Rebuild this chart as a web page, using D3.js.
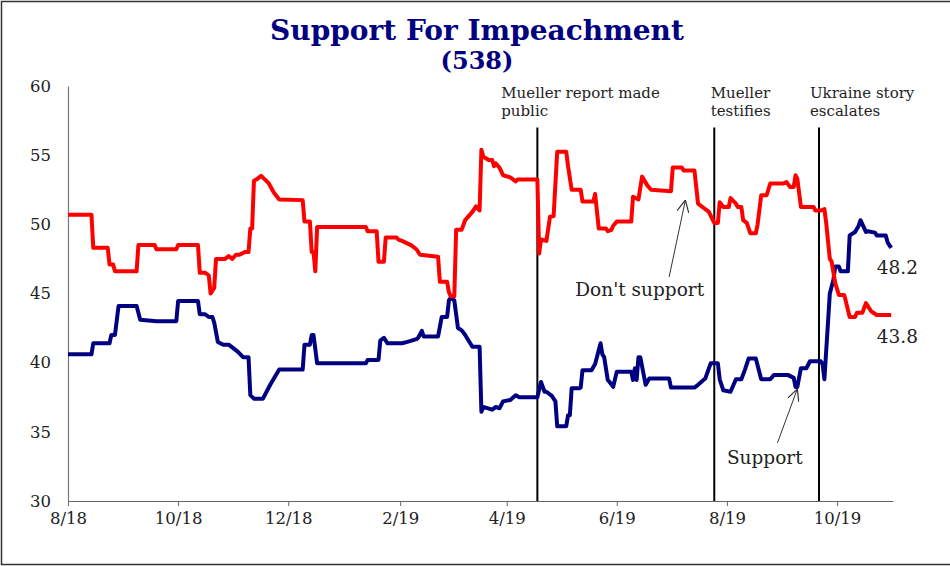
<!DOCTYPE html>
<html>
<head>
<meta charset="utf-8">
<script src="https://cdn.jsdelivr.net/npm/d3@7"></script>
<style>
  body { margin: 0; background: #fff; }
  svg { display: block; }
  text { font-family: "DejaVu Serif", Georgia, serif; }
</style>
</head>
<body>
<div id="chart"></div>
<script>
// Support for impeachment (538 average)
const supportSeries = [
  ["2018-08-01", 40.6], ["2018-08-14", 40.6], ["2018-08-15", 41.4], ["2018-08-24", 41.4],
  ["2018-08-25", 42.0], ["2018-08-27", 42.0], ["2018-08-29", 44.1], ["2018-09-08", 44.1],
  ["2018-09-10", 43.1], ["2018-09-19", 43.0], ["2018-09-30", 43.0], ["2018-10-01", 44.45],
  ["2018-10-12", 44.45], ["2018-10-13", 43.5], ["2018-10-16", 43.5], ["2018-10-18", 43.3],
  ["2018-10-20", 43.3], ["2018-10-21", 42.9], ["2018-10-23", 41.5], ["2018-10-26", 41.3],
  ["2018-10-29", 41.3], ["2018-10-31", 41.1], ["2018-11-03", 40.8], ["2018-11-06", 40.4],
  ["2018-11-09", 40.4], ["2018-11-10", 37.65], ["2018-11-12", 37.4], ["2018-11-17", 37.4],
  ["2018-11-21", 38.4], ["2018-11-26", 39.5], ["2018-12-09", 39.5], ["2018-12-10", 41.3],
  ["2018-12-13", 41.3], ["2018-12-14", 42.0], ["2018-12-15", 42.0], ["2018-12-17", 39.95],
  ["2019-01-13", 39.95], ["2019-01-14", 40.2], ["2019-01-20", 40.2], ["2019-01-21", 41.6],
  ["2019-01-23", 41.8], ["2019-01-25", 41.4], ["2019-02-02", 41.4], ["2019-02-05", 41.5],
  ["2019-02-10", 41.7], ["2019-02-11", 41.8], ["2019-02-13", 42.3], ["2019-02-14", 41.9],
  ["2019-02-22", 41.9], ["2019-02-24", 43.3], ["2019-02-27", 43.3], ["2019-02-28", 44.5],
  ["2019-03-01", 44.7], ["2019-03-03", 44.5], ["2019-03-05", 42.5], ["2019-03-07", 42.35],
  ["2019-03-09", 42.0], ["2019-03-13", 41.15], ["2019-03-17", 41.15], ["2019-03-18", 36.45],
  ["2019-03-19", 36.8], ["2019-03-24", 36.6], ["2019-03-26", 36.8], ["2019-03-28", 36.7],
  ["2019-03-30", 37.2], ["2019-04-03", 37.3], ["2019-04-06", 37.65], ["2019-04-08", 37.5],
  ["2019-04-18", 37.5], ["2019-04-20", 38.6], ["2019-04-22", 37.9], ["2019-04-23", 37.9],
  ["2019-04-26", 37.6], ["2019-04-28", 37.2], ["2019-04-29", 35.4], ["2019-05-04", 35.4],
  ["2019-05-05", 36.2], ["2019-05-06", 36.2], ["2019-05-07", 38.15], ["2019-05-11", 38.15],
  ["2019-05-12", 38.2], ["2019-05-13", 39.45], ["2019-05-18", 39.45], ["2019-05-20", 39.9],
  ["2019-05-23", 41.4], ["2019-05-24", 40.6], ["2019-05-25", 40.4], ["2019-05-27", 38.75],
  ["2019-05-28", 38.6], ["2019-05-30", 38.25], ["2019-06-01", 39.35], ["2019-06-09", 39.35],
  ["2019-06-10", 38.75], ["2019-06-11", 39.6], ["2019-06-12", 38.75], ["2019-06-13", 40.4],
  ["2019-06-14", 40.4], ["2019-06-17", 38.4], ["2019-06-19", 38.85], ["2019-06-30", 38.85],
  ["2019-07-01", 38.2], ["2019-07-14", 38.2], ["2019-07-16", 38.4], ["2019-07-20", 38.85],
  ["2019-07-23", 39.95], ["2019-07-27", 39.95], ["2019-07-28", 38.8], ["2019-07-30", 38.0],
  ["2019-08-03", 37.9], ["2019-08-06", 38.8], ["2019-08-09", 38.8], ["2019-08-11", 39.5],
  ["2019-08-13", 40.3], ["2019-08-17", 40.3], ["2019-08-20", 38.8], ["2019-08-25", 38.8],
  ["2019-08-27", 39.1], ["2019-09-04", 39.1], ["2019-09-07", 38.9], ["2019-09-08", 38.25],
  ["2019-09-09", 38.25], ["2019-09-11", 39.6], ["2019-09-14", 39.6], ["2019-09-16", 40.1],
  ["2019-09-22", 40.1], ["2019-09-23", 39.9], ["2019-09-24", 38.8], ["2019-09-27", 45.0],
  ["2019-09-29", 46.0], ["2019-09-30", 46.95], ["2019-10-02", 46.95], ["2019-10-03", 46.6],
  ["2019-10-07", 46.6], ["2019-10-08", 49.2], ["2019-10-11", 49.45], ["2019-10-13", 49.9],
  ["2019-10-14", 50.3], ["2019-10-17", 49.45], ["2019-10-18", 49.5], ["2019-10-22", 49.4],
  ["2019-10-23", 49.2], ["2019-10-28", 49.2], ["2019-10-29", 48.7], ["2019-10-31", 48.3]
];

const opposeSeries = [
  ["2018-08-01", 50.7], ["2018-08-14", 50.7], ["2018-08-15", 48.3], ["2018-08-23", 48.3],
  ["2018-08-24", 47.1], ["2018-08-26", 47.1], ["2018-08-27", 46.6], ["2018-09-08", 46.6],
  ["2018-09-09", 48.5], ["2018-09-18", 48.5], ["2018-09-19", 48.2], ["2018-09-30", 48.2],
  ["2018-10-01", 48.5], ["2018-10-12", 48.5], ["2018-10-13", 46.5], ["2018-10-16", 46.5],
  ["2018-10-18", 46.3], ["2018-10-19", 45.0], ["2018-10-21", 45.4], ["2018-10-22", 47.5],
  ["2018-10-27", 47.5], ["2018-10-29", 47.7], ["2018-10-31", 47.5], ["2018-11-02", 47.8],
  ["2018-11-04", 47.8], ["2018-11-07", 48.0], ["2018-11-09", 48.0], ["2018-11-10", 49.7],
  ["2018-11-11", 49.7], ["2018-11-12", 53.15], ["2018-11-14", 53.3], ["2018-11-16", 53.5],
  ["2018-11-20", 53.0], ["2018-11-23", 52.3], ["2018-11-26", 51.8], ["2018-12-09", 51.75],
  ["2018-12-10", 50.2], ["2018-12-13", 50.2], ["2018-12-14", 48.0], ["2018-12-15", 48.0],
  ["2018-12-16", 46.6], ["2018-12-17", 49.8], ["2019-01-13", 49.8], ["2019-01-14", 49.5],
  ["2019-01-19", 49.5], ["2019-01-20", 47.3], ["2019-01-23", 47.3], ["2019-01-24", 49.05],
  ["2019-01-30", 49.05], ["2019-01-31", 48.9], ["2019-02-02", 48.8], ["2019-02-07", 48.5],
  ["2019-02-10", 48.2], ["2019-02-12", 47.8], ["2019-02-22", 47.65], ["2019-02-23", 45.85],
  ["2019-02-27", 45.85], ["2019-02-28", 45.1], ["2019-03-01", 44.8], ["2019-03-03", 44.8],
  ["2019-03-04", 49.6], ["2019-03-07", 49.6], ["2019-03-09", 50.3], ["2019-03-13", 50.9],
  ["2019-03-15", 51.3], ["2019-03-17", 51.0], ["2019-03-18", 55.4], ["2019-03-19", 54.9],
  ["2019-03-22", 54.65], ["2019-03-24", 54.65], ["2019-03-25", 54.2], ["2019-03-26", 54.4],
  ["2019-03-28", 54.1], ["2019-03-30", 53.55], ["2019-04-03", 53.4], ["2019-04-06", 53.1],
  ["2019-04-07", 53.25], ["2019-04-18", 53.25], ["2019-04-19", 47.9], ["2019-04-20", 48.9],
  ["2019-04-23", 48.8], ["2019-04-25", 50.55], ["2019-04-27", 50.6], ["2019-04-29", 55.25],
  ["2019-05-04", 55.25], ["2019-05-05", 54.2], ["2019-05-07", 52.5], ["2019-05-12", 52.5],
  ["2019-05-13", 51.65], ["2019-05-19", 51.65], ["2019-05-20", 52.2], ["2019-05-22", 49.7],
  ["2019-05-26", 49.7], ["2019-05-27", 49.5], ["2019-05-29", 49.6], ["2019-05-30", 49.9],
  ["2019-06-01", 50.2], ["2019-06-09", 50.2], ["2019-06-10", 52.0], ["2019-06-13", 51.8],
  ["2019-06-15", 53.45], ["2019-06-18", 52.8], ["2019-06-20", 52.5], ["2019-07-01", 52.4],
  ["2019-07-02", 54.1], ["2019-07-07", 54.1], ["2019-07-08", 53.9], ["2019-07-14", 53.9],
  ["2019-07-16", 51.5], ["2019-07-19", 51.2], ["2019-07-22", 50.9], ["2019-07-25", 50.1],
  ["2019-07-27", 50.1], ["2019-07-28", 51.6], ["2019-07-30", 51.25], ["2019-08-02", 51.25],
  ["2019-08-03", 51.9], ["2019-08-06", 51.5], ["2019-08-07", 51.25], ["2019-08-09", 51.25],
  ["2019-08-10", 50.3], ["2019-08-12", 50.1], ["2019-08-14", 49.35], ["2019-08-17", 49.35],
  ["2019-08-18", 50.0], ["2019-08-20", 52.1], ["2019-08-23", 52.1], ["2019-08-25", 52.95],
  ["2019-09-01", 52.95], ["2019-09-03", 53.05], ["2019-09-05", 52.7], ["2019-09-07", 52.7],
  ["2019-09-08", 53.55], ["2019-09-09", 53.3], ["2019-09-11", 51.25], ["2019-09-18", 51.25],
  ["2019-09-19", 51.0], ["2019-09-22", 51.0], ["2019-09-24", 51.1], ["2019-09-25", 50.1],
  ["2019-09-27", 47.5], ["2019-09-28", 47.3], ["2019-09-30", 45.75], ["2019-10-02", 44.9],
  ["2019-10-05", 44.9], ["2019-10-08", 43.3], ["2019-10-11", 43.3], ["2019-10-12", 43.6],
  ["2019-10-15", 43.6], ["2019-10-17", 44.3], ["2019-10-20", 43.7], ["2019-10-23", 43.45],
  ["2019-10-31", 43.45]
];

const yTicks = [30, 35, 40, 45, 50, 55, 60];
const xTickDates = ["2018-08-01", "2018-10-01", "2018-12-01", "2019-02-01",
                    "2019-04-01", "2019-06-01", "2019-08-01", "2019-10-01"];
const xTickLabels = ["8/18", "10/18", "12/18", "2/19", "4/19", "6/19", "8/19", "10/19"];

// event lines: date, label lines, date where the label starts
const events = [
  { date: "2019-04-18", lines: ["Mueller report made", "public"], labelDate: "2019-03-29" },
  { date: "2019-07-25", lines: ["Mueller", "testifies"], labelDate: "2019-07-23" },
  { date: "2019-09-21", lines: ["Ukraine story", "escalates"], labelDate: "2019-09-16" }
];

const endLabels = [
  { text: "48.2", date: "2019-10-23", value: 46.4 },
  { text: "43.8", date: "2019-10-23", value: 41.4 }
];

// series callouts: text anchor + arrow tail/tip in data units
const callouts = [
  { text: "Don't support", textDate: "2019-05-09", textValue: 44.85,
    from: ["2019-06-30", 46.2], to: ["2019-07-09", 51.75] },
  { text: "Support", textDate: "2019-08-01", textValue: 32.7,
    from: ["2019-08-29", 34.2], to: ["2019-09-09", 38.1] }
];

const width = 950, height = 566;
const parse = d3.timeParse("%Y-%m-%d");

const x = d3.scaleTime()
  .domain([parse("2018-08-01"), parse("2019-11-01")])
  .range([68, 893]);
const y = d3.scaleLinear().domain([30, 60]).range([501, 86]);

const svg = d3.select("#chart").append("svg")
  .attr("width", width)
  .attr("height", height);

// frame
svg.append("rect")
  .attr("x", 1.5).attr("y", 1.5)
  .attr("width", width + 10).attr("height", 563)
  .attr("fill", "none")
  .attr("stroke", "#333")
  .attr("stroke-width", 1.5);

// title
svg.append("text")
  .attr("x", 477).attr("y", 40)
  .attr("text-anchor", "middle")
  .attr("font-size", 28)
  .attr("font-weight", "bold")
  .attr("fill", "#000080")
  .text("Support For Impeachment");
svg.append("text")
  .attr("x", 477).attr("y", 69)
  .attr("text-anchor", "middle")
  .attr("font-size", 24)
  .attr("font-weight", "bold")
  .attr("fill", "#000080")
  .text("(538)");

// axes
const yAxis = d3.axisLeft(y).tickValues(yTicks).tickSize(0).tickPadding(17);
const gy = svg.append("g").attr("transform", "translate(68,0)").call(yAxis);
gy.select(".domain").attr("stroke", "#777").attr("stroke-width", 1.2);
gy.selectAll("text").attr("font-size", 16.5).attr("fill", "#222")
  .attr("font-family", "DejaVu Serif, serif");

const xAxis = d3.axisBottom(x)
  .tickValues(xTickDates.map(parse))
  .tickFormat((d, i) => xTickLabels[i])
  .tickSizeInner(5).tickSizeOuter(0).tickPadding(6);
const gx = svg.append("g").attr("transform", "translate(0,501)").call(xAxis);
gx.select(".domain").attr("stroke", "#666").attr("stroke-width", 1.2);
gx.selectAll(".tick line").attr("stroke", "#666");
gx.selectAll("text").attr("font-size", 16.5).attr("fill", "#222")
  .attr("font-family", "DejaVu Serif, serif");

// event lines
events.forEach(ev => {
  const ex = x(parse(ev.date));
  svg.append("line")
    .attr("x1", ex).attr("x2", ex)
    .attr("y1", y(57)).attr("y2", y(30))
    .attr("stroke", "#000").attr("stroke-width", 2);
  const t = svg.append("text")
    .attr("x", x(parse(ev.labelDate)))
    .attr("y", 98)
    .attr("font-size", 15)
    .attr("fill", "#222");
  ev.lines.forEach((s, i) => {
    t.append("tspan").attr("x", x(parse(ev.labelDate))).attr("dy", i === 0 ? 0 : 18).text(s);
  });
});

// lines
const line = d3.line()
  .x(d => x(parse(d[0])))
  .y(d => y(d[1]));

svg.append("path")
  .datum(supportSeries)
  .attr("d", line)
  .attr("fill", "none")
  .attr("stroke", "#000080")
  .attr("stroke-width", 4)
  .attr("stroke-linejoin", "round");

svg.append("path")
  .datum(opposeSeries)
  .attr("d", line)
  .attr("fill", "none")
  .attr("stroke", "#ff0000")
  .attr("stroke-width", 4)
  .attr("stroke-linejoin", "round");

// end labels
endLabels.forEach(l => {
  svg.append("text")
    .attr("x", x(parse(l.date))).attr("y", y(l.value))
    .attr("font-size", 18.5).attr("fill", "#222")
    .text(l.text);
});

// callouts with open arrowheads
svg.append("defs").append("marker")
  .attr("id", "arrow")
  .attr("viewBox", "0 0 10 10")
  .attr("refX", 10).attr("refY", 5)
  .attr("markerWidth", 12).attr("markerHeight", 12)
  .attr("markerUnits", "userSpaceOnUse")
  .attr("orient", "auto")
  .append("path")
  .attr("d", "M0,0 L10,5 L0,10")
  .attr("fill", "none")
  .attr("stroke", "#333")
  .attr("stroke-width", 1);

callouts.forEach(c => {
  svg.append("text")
    .attr("x", x(parse(c.textDate))).attr("y", y(c.textValue))
    .attr("font-size", 18.5).attr("fill", "#222")
    .text(c.text);
  svg.append("line")
    .attr("x1", x(parse(c.from[0]))).attr("y1", y(c.from[1]))
    .attr("x2", x(parse(c.to[0]))).attr("y2", y(c.to[1]))
    .attr("stroke", "#333").attr("stroke-width", 1)
    .attr("marker-end", "url(#arrow)");
});
</script>
</body>
</html>
